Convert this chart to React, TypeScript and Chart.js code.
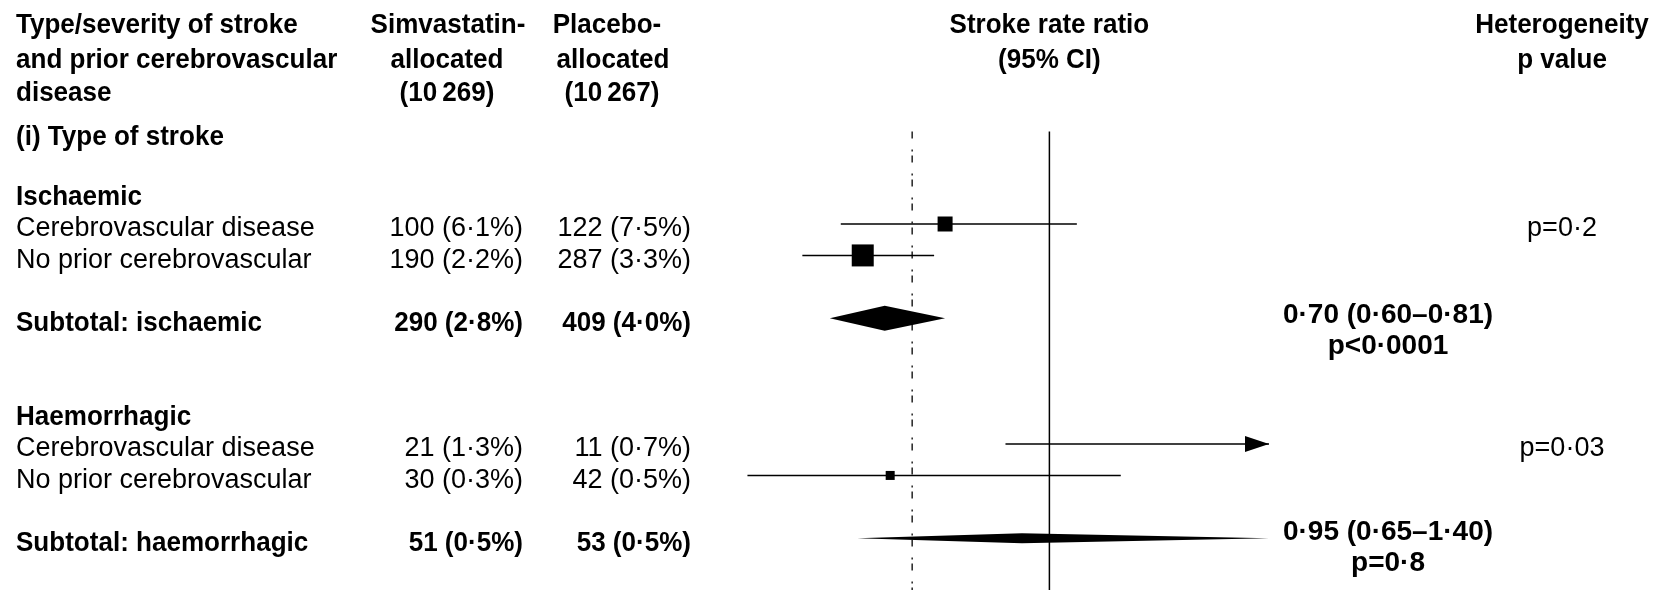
import React, { useEffect, useRef } from "react";
import { Chart, registerables } from "chart.js";

Chart.register(...registerables);

// ---- Table data -------------------------------------------------------------
const groupNames = ["Ischaemic", "Haemorrhagic"];
const subtotalNames = ["Subtotal: ischaemic", "Subtotal: haemorrhagic"];
const subgroupNames = [
  "Cerebrovascular disease",
  "No prior cerebrovascular",
  "Cerebrovascular disease",
  "No prior cerebrovascular",
];

// Strokes (% of patients) per subgroup row
const simvaEvents = [100, 190, 21, 30];
const simvaPct = [6.1, 2.2, 1.3, 0.3];
const placeboEvents = [122, 287, 11, 42];
const placeboPct = [7.5, 3.3, 0.7, 0.5];

// Subtotals per stroke type
const simvaSubEvents = [290, 51];
const simvaSubPct = [2.8, 0.5];
const placeboSubEvents = [409, 53];
const placeboSubPct = [4.0, 0.5];

// Stroke rate ratios with 95% CI per subgroup row
const rateRatio = [0.81, 0.66, 1.91, 0.71];
const ciLow = [0.62, 0.55, 0.92, 0.45];
const ciHigh = [1.05, 0.79, 3.97, 1.13];

// Subtotal ratios with 95% CI
const subRatio = [0.7, 0.95];
const subLow = [0.6, 0.65];
const subHigh = [0.81, 1.4];
const subPText = ["p<0·0001", "p=0·8"];
const heterogeneityP = ["p=0·2", "p=0·03"];

// Overall stroke rate ratio (dashed reference)
const overallRatio = 0.75;
const axisMin = 0.4;
const axisMax = 1.4;

// ---- Layout (row units on the vertical scale) -------------------------------
const sectionRow = -2.93;
const groupRows = [-1, 6];
const subgroupRows = [0, 1, 7, 8];
const subtotalRows = [3, 10];
const estTextShift = [
  [-0.27, 0.72],
  [-0.34, 0.63],
];
const headerRows = [-6.49, -5.38, -4.33];
const refLineTop = -2.94;
const rowPx = 31.43;
const row0Px = 224;
const H = 590;
const W = 1654;
const yMin = -row0Px / rowPx;
const yMax = (H - row0Px) / rowPx;

const squareSide = [15, 22, 10, 9];
const diamondHalf = [12.5, 5];

const REG = '"Liberation Sans", Arial, sans-serif';
const fReg = `27px ${REG}`;
const fBold = `bold 28px ${REG}`;
const fHead = `bold 28px ${REG}`;
const headSx = 0.93;

const colLabel = 16;
const colSimvaRight = 523;
const colPlaceboRight = 691;
const colEst = 1388;
const colHet = 1562;
const textDrop = 5;

const num = (v: number, d: number) => v.toFixed(d).replace(".", "·");
const fmt = (n: number, p: number) => `${n} (${num(p, 1)}%)`;

const forestPlugin = {
  id: "forestTable",
  afterDatasetsDraw(chart: any) {
    const { ctx, scales } = chart;
    const x = scales.x;
    const y = scales.y;
    ctx.save();
    ctx.fillStyle = "#000";
    // pooled diamonds
    subRatio.forEach((est, i) => {
      const yc = y.getPixelForValue(subtotalRows[i]);
      const h = diamondHalf[i];
      ctx.beginPath();
      ctx.moveTo(x.getPixelForValue(subLow[i]), yc);
      ctx.lineTo(x.getPixelForValue(est), yc - h);
      ctx.lineTo(x.getPixelForValue(Math.min(subHigh[i], axisMax)), yc);
      ctx.lineTo(x.getPixelForValue(est), yc + h);
      ctx.closePath();
      ctx.fill();
    });
    // arrowheads for intervals running past the right edge
    ciHigh.forEach((hi, i) => {
      if (hi <= axisMax) return;
      const tip = x.getPixelForValue(axisMax);
      const yc = y.getPixelForValue(subgroupRows[i]);
      ctx.beginPath();
      ctx.moveTo(tip, yc);
      ctx.lineTo(tip - 24, yc - 8);
      ctx.lineTo(tip - 24, yc + 8);
      ctx.closePath();
      ctx.fill();
    });
    ctx.restore();
  },
  afterDraw(chart: any) {
    const { ctx, scales } = chart;
    const x = scales.x;
    const y = scales.y;
    const put = (
      t: string,
      px: number,
      row: number,
      font: string,
      align: CanvasTextAlign,
      sx = 1
    ) => {
      ctx.save();
      ctx.translate(px, y.getPixelForValue(row) + textDrop);
      ctx.scale(sx, 1);
      ctx.font = font;
      ctx.textAlign = align;
      ctx.textBaseline = "middle";
      ctx.fillText(t, 0, 0);
      ctx.restore();
    };
    const head = (t: string, px: number, row: number, align: CanvasTextAlign) =>
      put(t, px, row, fHead, align, headSx);

    ctx.save();
    ctx.fillStyle = "#000";

    // column headers
    ["Type/severity of stroke", "and prior cerebrovascular", "disease"].forEach((t, i) =>
      head(t, colLabel, headerRows[i], "left")
    );
    [["Simvastatin-", 448], ["allocated", 447], ["(10\u2009269)", 447]].forEach(([t, cx], i) =>
      head(t as string, cx as number, headerRows[i], "center")
    );
    [["Placebo-", 607], ["allocated", 613], ["(10\u2009267)", 612]].forEach(([t, cx], i) =>
      head(t as string, cx as number, headerRows[i], "center")
    );
    const cx1 = x.getPixelForValue(1);
    head("Stroke rate ratio", cx1, headerRows[0], "center");
    head("(95% CI)", cx1, headerRows[1], "center");
    head("Heterogeneity", colHet, headerRows[0], "center");
    head("p value", colHet, headerRows[1], "center");

    head("(i) Type of stroke", colLabel, sectionRow, "left");

    groupNames.forEach((g, gi) => {
      head(g, colLabel, groupRows[gi], "left");
      for (let k = 0; k < 2; k++) {
        const i = gi * 2 + k;
        const r = subgroupRows[i];
        put(subgroupNames[i], colLabel, r, fReg, "left");
        put(fmt(simvaEvents[i], simvaPct[i]), colSimvaRight, r, fReg, "right");
        put(fmt(placeboEvents[i], placeboPct[i]), colPlaceboRight, r, fReg, "right");
      }
      put(heterogeneityP[gi], colHet, subgroupRows[gi * 2], fReg, "center");
      const sr = subtotalRows[gi];
      head(subtotalNames[gi], colLabel, sr, "left");
      head(fmt(simvaSubEvents[gi], simvaSubPct[gi]), colSimvaRight, sr, "right");
      head(fmt(placeboSubEvents[gi], placeboSubPct[gi]), colPlaceboRight, sr, "right");
      const est = `${num(subRatio[gi], 2)} (${num(subLow[gi], 2)}–${num(subHigh[gi], 2)})`;
      put(est, colEst, sr + estTextShift[gi][0], fBold, "center");
      put(subPText[gi], colEst, sr + estTextShift[gi][1], fBold, "center");
    });
    ctx.restore();
  },
};

export default function App() {
  const ref = useRef<HTMLCanvasElement | null>(null);

  useEffect(() => {
    document.body.style.margin = "0";
    const canvas = ref.current;
    if (!canvas) return;

    const ciSets = rateRatio.map((_, i) => ({
      data: [
        { x: ciLow[i], y: subgroupRows[i] },
        { x: ciHigh[i], y: subgroupRows[i] },
      ],
      showLine: true,
      borderColor: "#000",
      borderWidth: 1.5,
      pointRadius: 0,
    }));

    const chart = new Chart(canvas, {
      type: "scatter",
      data: {
        datasets: [
          {
            data: [
              { x: 1, y: refLineTop },
              { x: 1, y: yMax },
            ],
            showLine: true,
            borderColor: "#000",
            borderWidth: 1.5,
            pointRadius: 0,
          },
          {
            data: [
              { x: overallRatio, y: refLineTop },
              { x: overallRatio, y: yMax },
            ],
            showLine: true,
            borderColor: "#000",
            borderWidth: 1.3,
            borderDash: [7, 11, 2, 4],
            pointRadius: 0,
          },
          ...ciSets,
          {
            data: rateRatio.map((r, i) => ({ x: r, y: subgroupRows[i] })),
            showLine: false,
            pointStyle: "rect",
            pointRadius: squareSide.map((s) => s / Math.SQRT2),
            pointBackgroundColor: "#000",
            pointBorderWidth: 0,
          },
        ],
      },
      options: {
        animation: false,
        responsive: false,
        devicePixelRatio: 1,
        layout: {
          autoPadding: false,
          padding: { left: 720, right: W - 1269, top: 0, bottom: 0 },
        },
        plugins: { legend: { display: false }, tooltip: { enabled: false } },
        events: [],
        scales: {
          x: { type: "linear", min: axisMin, max: axisMax, display: false },
          y: { type: "linear", min: yMin, max: yMax, reverse: true, display: false },
        },
      },
      plugins: [forestPlugin],
    });
    return () => chart.destroy();
  }, []);

  return (
    <div style={{ width: W, height: H, background: "#fff" }}>
      <canvas ref={ref} width={W} height={H} style={{ display: "block" }} />
    </div>
  );
}
